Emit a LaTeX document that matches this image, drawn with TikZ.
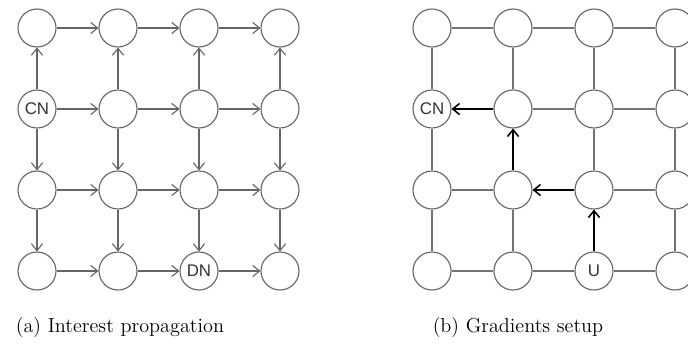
\documentclass[tikz,border=0pt]{standalone}
\usepackage{fontspec}
\usepackage{tikz}
\usetikzlibrary{arrows.meta}
\newfontfamily\cellfont{Liberation Sans}
\tikzset{
  cell/.style={circle,draw=black!60,line width=0.8pt,minimum size=0.95cm,inner sep=0pt,font=\cellfont\large,text=black!80},
  link/.style={draw=black!55,line width=0.8pt},
  flow/.style={-{Straight Barb[length=1.7mm,width=2.8mm]},draw=black!60,line width=0.8pt},
  grad/.style={-{Straight Barb[length=1.7mm,width=2.8mm]},draw=black,line width=1.1pt}
}
\begin{document}
\begin{tikzpicture}
\useasboundingbox (0,0) rectangle (17.2,-8.675);
% (a) interest propagation
\node[cell](l11) at (0.925,-0.7) {};
\node[cell](l12) at (2.95,-0.7) {};
\node[cell](l13) at (4.975,-0.7) {};
\node[cell](l14) at (7.0,-0.7) {};
\node[cell](l21) at (0.925,-2.725) {CN};
\node[cell](l22) at (2.95,-2.725) {};
\node[cell](l23) at (4.975,-2.725) {};
\node[cell](l24) at (7.0,-2.725) {};
\node[cell](l31) at (0.925,-4.75) {};
\node[cell](l32) at (2.95,-4.75) {};
\node[cell](l33) at (4.975,-4.75) {};
\node[cell](l34) at (7.0,-4.75) {};
\node[cell](l41) at (0.925,-6.775) {};
\node[cell](l42) at (2.95,-6.775) {};
\node[cell](l43) at (4.975,-6.775) {DN};
\node[cell](l44) at (7.0,-6.775) {};
\draw[flow] (l11)--(l12);
\draw[flow] (l12)--(l13);
\draw[flow] (l13)--(l14);
\draw[flow] (l21)--(l22);
\draw[flow] (l22)--(l23);
\draw[flow] (l23)--(l24);
\draw[flow] (l31)--(l32);
\draw[flow] (l32)--(l33);
\draw[flow] (l33)--(l34);
\draw[flow] (l41)--(l42);
\draw[flow] (l42)--(l43);
\draw[flow] (l43)--(l44);
\draw[flow] (l21)--(l11);
\draw[flow] (l22)--(l12);
\draw[flow] (l23)--(l13);
\draw[flow] (l24)--(l14);
\draw[flow] (l21)--(l31);
\draw[flow] (l22)--(l32);
\draw[flow] (l23)--(l33);
\draw[flow] (l24)--(l34);
\draw[flow] (l31)--(l41);
\draw[flow] (l32)--(l42);
\draw[flow] (l33)--(l43);
\draw[flow] (l34)--(l44);
\node(capa) at (3.0,-8.175) {\Large (a) Interest propagation};
% (b) gradients setup
\node[cell](r11) at (10.8,-0.7) {};
\node[cell](r12) at (12.825,-0.7) {};
\node[cell](r13) at (14.85,-0.7) {};
\node[cell](r14) at (16.875,-0.7) {};
\node[cell](r21) at (10.8,-2.725) {CN};
\node[cell](r22) at (12.825,-2.725) {};
\node[cell](r23) at (14.85,-2.725) {};
\node[cell](r24) at (16.875,-2.725) {};
\node[cell](r31) at (10.8,-4.75) {};
\node[cell](r32) at (12.825,-4.75) {};
\node[cell](r33) at (14.85,-4.75) {};
\node[cell](r34) at (16.875,-4.75) {};
\node[cell](r41) at (10.8,-6.775) {};
\node[cell](r42) at (12.825,-6.775) {};
\node[cell](r43) at (14.85,-6.775) {U};
\node[cell](r44) at (16.875,-6.775) {};
\draw[link] (r11)--(r12);
\draw[link] (r12)--(r13);
\draw[link] (r13)--(r14);
\draw[link] (r22)--(r23);
\draw[link] (r23)--(r24);
\draw[link] (r31)--(r32);
\draw[link] (r33)--(r34);
\draw[link] (r41)--(r42);
\draw[link] (r42)--(r43);
\draw[link] (r43)--(r44);
\draw[link] (r11)--(r21);
\draw[link] (r21)--(r31);
\draw[link] (r31)--(r41);
\draw[link] (r12)--(r22);
\draw[link] (r32)--(r42);
\draw[link] (r13)--(r23);
\draw[link] (r23)--(r33);
\draw[link] (r14)--(r24);
\draw[link] (r24)--(r34);
\draw[link] (r34)--(r44);
\draw[grad] (r43)--(r33);
\draw[grad] (r33)--(r32);
\draw[grad] (r32)--(r22);
\draw[grad] (r22)--(r21);
\node(capb) at (12.95,-8.175) {\Large (b) Gradients setup};
\end{tikzpicture}
\end{document}
